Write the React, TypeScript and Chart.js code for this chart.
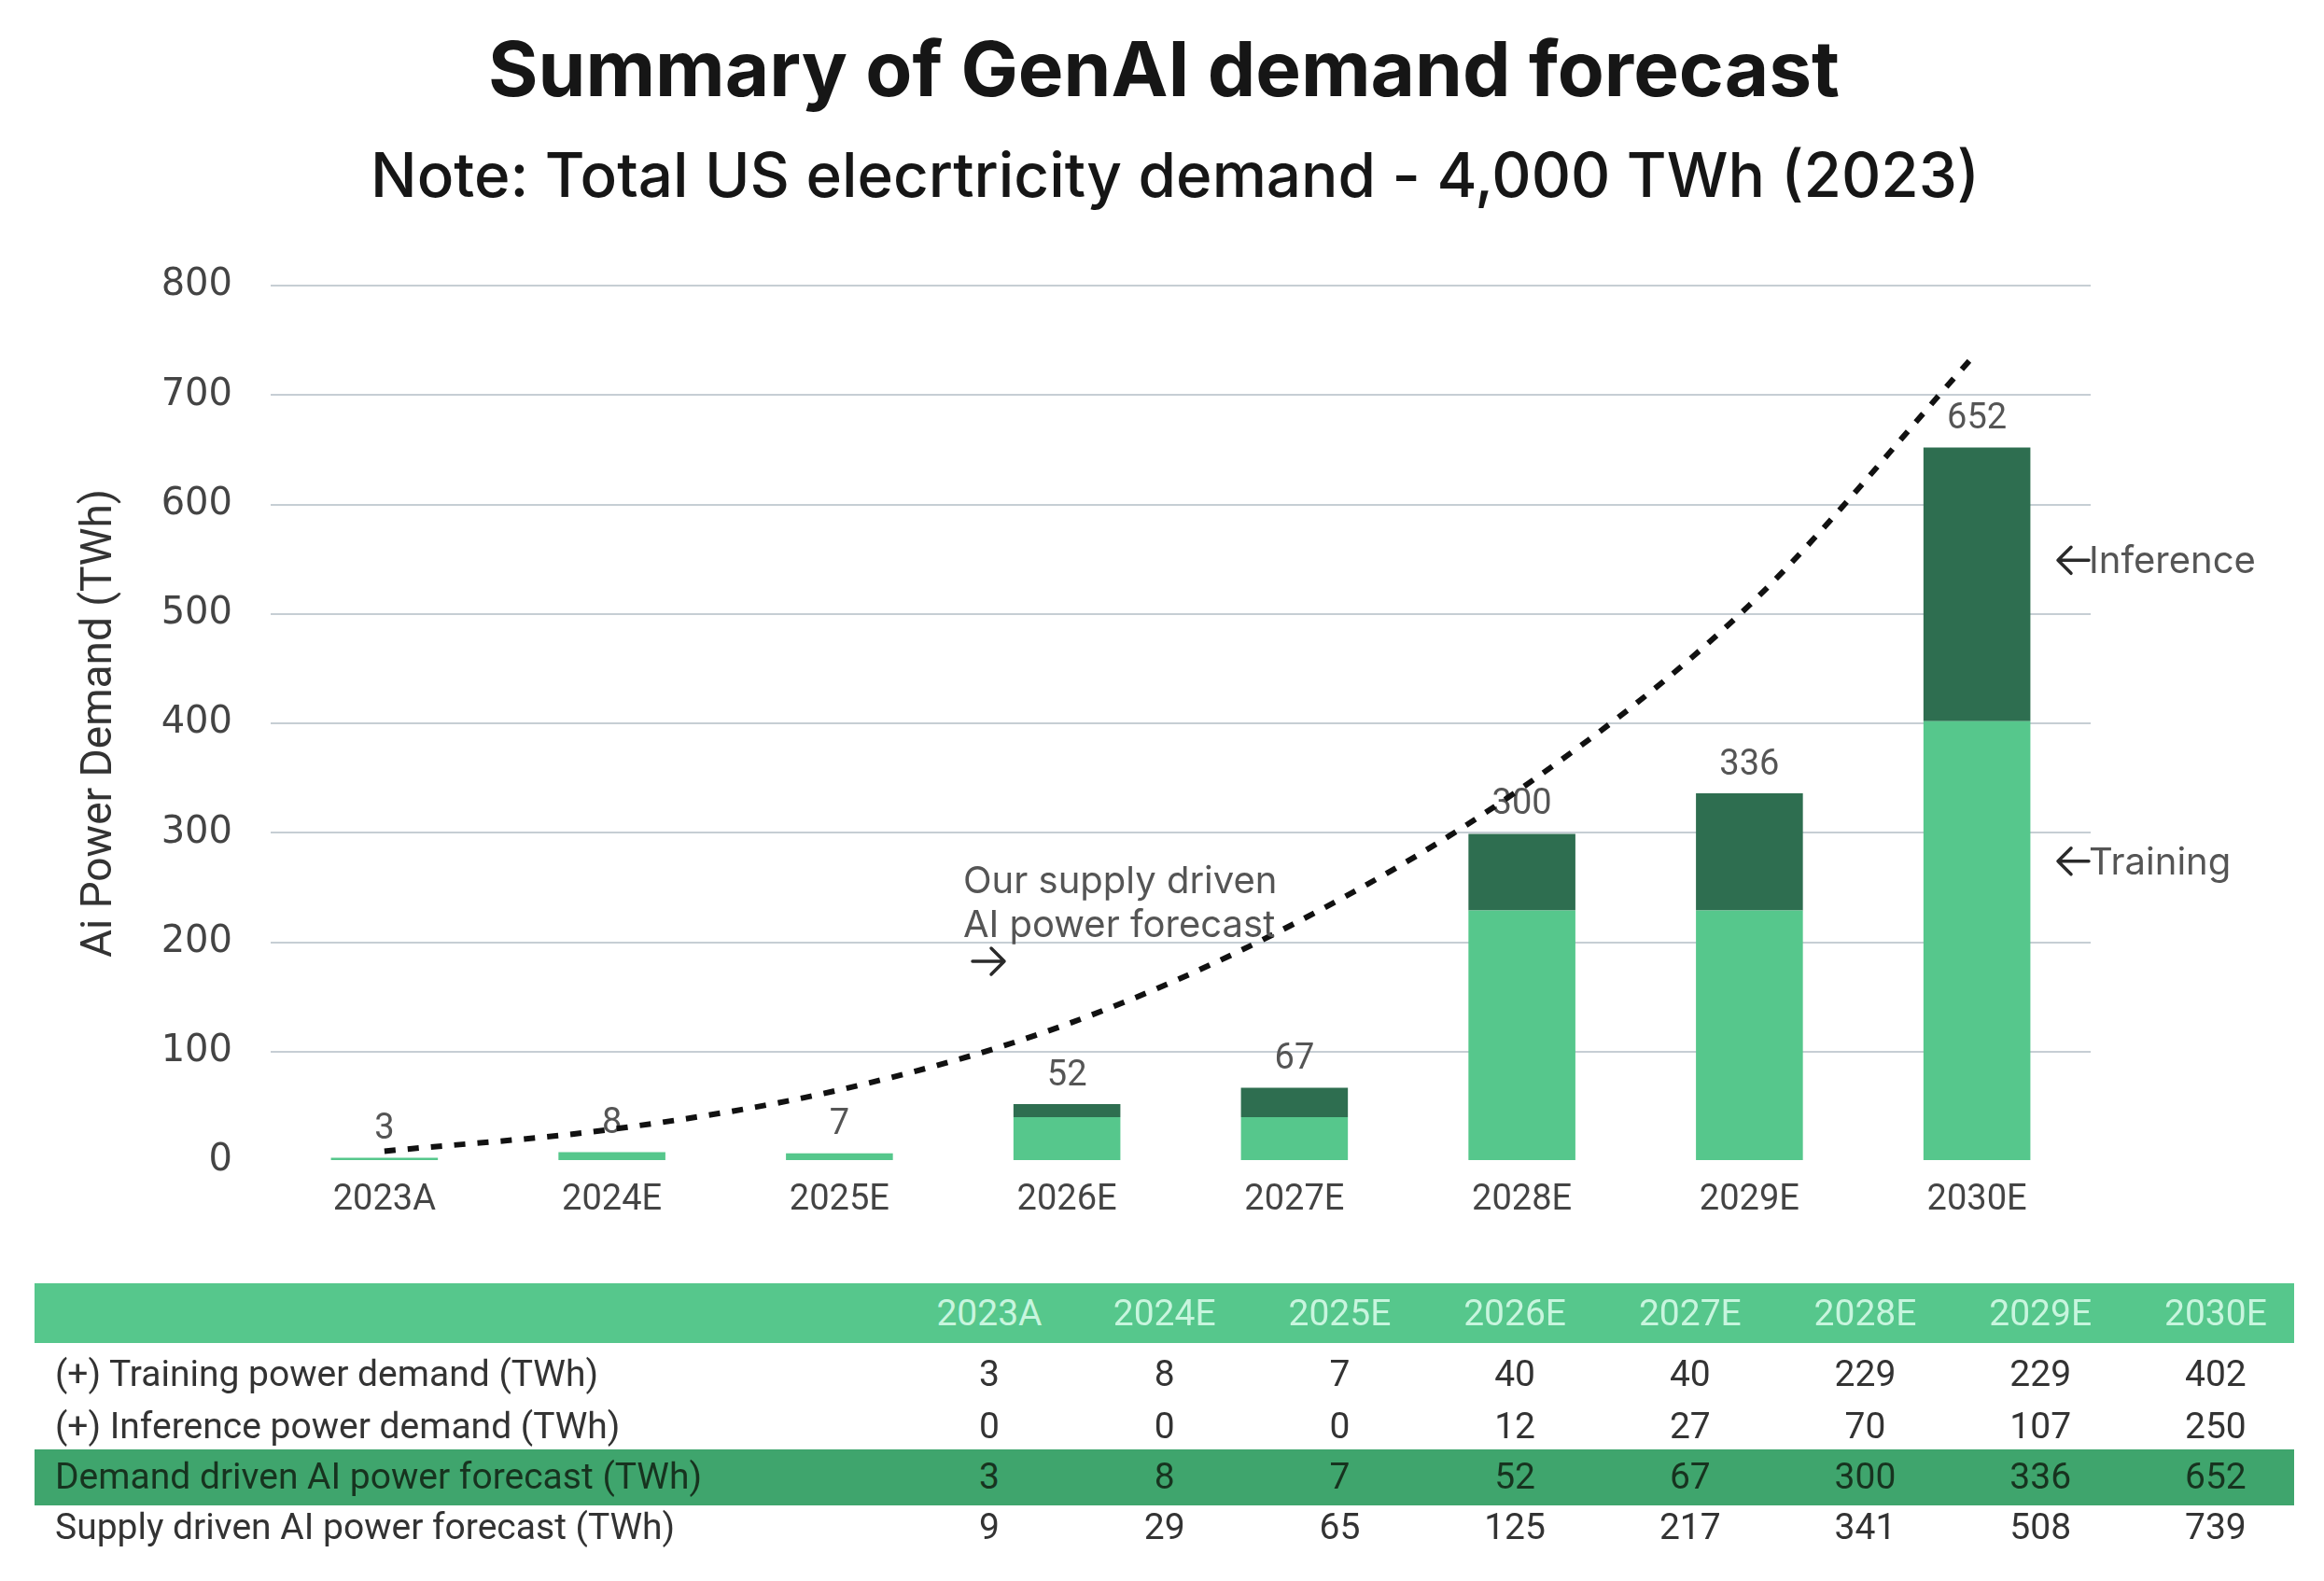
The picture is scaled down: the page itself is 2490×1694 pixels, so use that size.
import React, { useEffect, useRef } from 'react';
import { Chart, registerables } from 'chart.js';

Chart.register(...registerables);

// ---- data ----
const categories = ['2023A', '2024E', '2025E', '2026E', '2027E', '2028E', '2029E', '2030E'];
const trainingDemand = [3, 8, 7, 40, 40, 229, 229, 402];
const inferenceDemand = [0, 0, 0, 12, 27, 70, 107, 250];
const demandTotals = [3, 8, 7, 52, 67, 300, 336, 652];
const supplyForecast = [9, 29, 65, 125, 217, 341, 508, 739];
const yTickValues = [0, 100, 200, 300, 400, 500, 600, 700, 800];
const tableRowLabels = [
  '(+) Training power demand (TWh)',
  '(+) Inference power demand (TWh)',
  'Demand driven AI power forecast (TWh)',
  'Supply driven AI power forecast (TWh)',
];
const titleText = 'Summary of GenAI demand forecast';
const subtitleText = 'Note: Total US elecrtricity demand - 4,000 TWh (2023)';
const yAxisTitle = 'Ai Power Demand (TWh)';
const supplyNoteLines = ['Our supply driven', 'AI power forecast'];
const inferenceNote = 'Inference';
const trainingNote = 'Training';

// ---- styles ----
const LIGHT_GREEN = '#56C78C';
const DARK_GREEN = '#2E6E50';
const BAND_GREEN = '#3FA56D';
const W = 2490;
const H = 1694;

function fitFont(ctx: CanvasRenderingContext2D, text: string, weight: string, family: string, base: number, target: number) {
  ctx.font = `${weight} ${base}px ${family}`;
  const w = ctx.measureText(text).width;
  let size = base * (target / w);
  size = Math.max(base * 0.85, Math.min(base * 1.15, size));
  ctx.font = `${weight} ${size}px ${family}`;
}

function drawArrow(ctx: CanvasRenderingContext2D, x1: number, x2: number, y: number) {
  // arrow from x1 to x2 (head at x2)
  const dir = x2 > x1 ? 1 : -1;
  ctx.save();
  ctx.strokeStyle = '#2a2a2a';
  ctx.lineWidth = 3.5;
  ctx.lineCap = 'round';
  ctx.lineJoin = 'round';
  ctx.beginPath();
  ctx.moveTo(x1, y);
  ctx.lineTo(x2, y);
  ctx.moveTo(x2 - dir * 14, y - 14);
  ctx.lineTo(x2, y);
  ctx.lineTo(x2 - dir * 14, y + 14);
  ctx.stroke();
  ctx.restore();
}

const overlayPlugin = {
  id: 'overlay',
  beforeDatasetsDraw(chart: any) {
    const ctx = chart.ctx as CanvasRenderingContext2D;
    const xs = chart.scales.x;
    const ys = chart.scales.y;
    ctx.save();
    ctx.font = '400 38px Roboto';
    ctx.fillStyle = '#555';
    ctx.textAlign = 'center';
    ctx.textBaseline = 'middle';
    demandTotals.forEach((v, i) => {
      ctx.fillText(String(v), xs.getPixelForValue(i), ys.getPixelForValue(v) - 30);
    });
    ctx.restore();
  },
  afterDraw(chart: any) {
    const ctx = chart.ctx as CanvasRenderingContext2D;
    ctx.save();
    // titles
    ctx.fillStyle = '#161616';
    ctx.textAlign = 'center';
    ctx.textBaseline = 'alphabetic';
    fitFont(ctx, titleText, '700', 'Inter', 82, 1448);
    ctx.fillText(titleText, 1247, 103);
    fitFont(ctx, subtitleText, '500', 'Inter', 70, 1724);
    ctx.fillText(subtitleText, 1259, 211);

    // supply note
    ctx.textAlign = 'left';
    ctx.textBaseline = 'middle';
    ctx.fillStyle = '#555';
    ctx.font = '400 40px Inter';
    ctx.fillText(supplyNoteLines[0], 1032, 945);
    ctx.fillText(supplyNoteLines[1], 1032, 992);
    drawArrow(ctx, 1042, 1076, 1030);

    // right notes
    const ys = chart.scales.y;
    const drawNote = (txt: string, val: number) => {
      const yy = ys.getPixelForValue(val);
      drawArrow(ctx, 2238, 2205, yy);
      ctx.fillStyle = '#555';
      ctx.font = '400 40px Inter';
      ctx.fillText(txt, 2238, yy + 2);
    };
    drawNote(inferenceNote, 549);
    drawNote(trainingNote, 274);
    ctx.restore();
  },
};

export default function App() {
  const canvasRef = useRef<HTMLCanvasElement | null>(null);

  useEffect(() => {
    if (!canvasRef.current) return;
    const chart = new Chart(canvasRef.current, {
      type: 'bar',
      data: {
        labels: categories,
        datasets: [
          {
            type: 'line',
            label: 'Supply driven AI power forecast',
            data: supplyForecast,
            borderColor: '#111',
            borderWidth: 6,
            borderDash: [12, 13],
            pointRadius: 0,
            cubicInterpolationMode: 'monotone',
            fill: false,
            order: 0,
          } as any,
          {
            label: 'Training',
            data: trainingDemand,
            backgroundColor: LIGHT_GREEN,
            borderWidth: 0,
            stack: 's',
            order: 1,
            categoryPercentage: 1,
            barPercentage: 0.47,
          },
          {
            label: 'Inference',
            data: inferenceDemand,
            backgroundColor: DARK_GREEN,
            borderWidth: 0,
            stack: 's',
            order: 2,
            categoryPercentage: 1,
            barPercentage: 0.47,
          },
        ],
      },
      options: {
        responsive: false,
        animation: false,
        devicePixelRatio: 1,
        layout: { padding: { left: 0, right: 250, top: 306, bottom: 0 } },
        plugins: {
          legend: { display: false },
          tooltip: { enabled: false },
          title: { display: false },
        },
        scales: {
          x: {
            stacked: true,
            grid: { display: false, drawTicks: false },
            border: { display: false },
            ticks: { font: { family: 'Roboto', size: 38 }, color: '#444', padding: 20 },
            afterFit: (s: any) => { s.height = 450; },
          },
          y: {
            stacked: true,
            min: 0,
            max: 800,
            afterBuildTicks: (s: any) => { s.ticks = yTickValues.map((v) => ({ value: v })); },
            grid: {
              color: (c: any) => (c.tick && c.tick.value === 0 ? 'rgba(0,0,0,0)' : '#C6CED4'),
              lineWidth: 2,
              drawTicks: false,
            },
            border: { display: false },
            ticks: { font: { family: '"DejaVu Sans"', size: 40 }, color: '#444', padding: 41 },
            title: {
              display: true,
              text: yAxisTitle,
              font: { family: 'Roboto', size: 46 },
              color: '#333',
              padding: { top: 80, bottom: 0 },
            },
            afterFit: (s: any) => { s.width = 290; },
          },
        },
      },
      plugins: [overlayPlugin],
    });
    return () => chart.destroy();
  }, []);

  const colX = (i: number) => 1060 + i * 187.7;
  const rowY = [1472, 1528, 1582, 1636];
  const rowData = [trainingDemand, inferenceDemand, demandTotals, supplyForecast];

  const textStyle = (left: number, top: number, width: number, align: 'left' | 'center', color: string): React.CSSProperties => ({
    position: 'absolute',
    left,
    top: top - 25,
    width,
    height: 50,
    lineHeight: '50px',
    textAlign: align,
    color,
    fontFamily: 'Roboto',
    fontSize: 39,
    whiteSpace: 'nowrap',
  });

  return (
    <div style={{ position: 'absolute', left: 0, top: 0, width: W, height: H, background: '#fff', overflow: 'hidden' }}>
      <canvas ref={canvasRef} width={W} height={H} style={{ position: 'absolute', left: 0, top: 0, width: W, height: H }} />
      <div style={{ position: 'absolute', left: 37, top: 1375, width: 2421, height: 64, background: LIGHT_GREEN }} />
      <div style={{ position: 'absolute', left: 37, top: 1553, width: 2421, height: 60, background: BAND_GREEN }} />
      {categories.map((c, i) => (
        <div key={'h' + i} style={textStyle(colX(i) - 100, 1407, 200, 'center', '#C8F5DE')}>{c}</div>
      ))}
      {tableRowLabels.map((lbl, r) => (
        <div key={'l' + r} style={textStyle(59, rowY[r], 900, 'left', r === 2 ? '#17331F' : '#333')}>{lbl}</div>
      ))}
      {rowData.map((arr, r) =>
        arr.map((v, i) => (
          <div key={'v' + r + '-' + i} style={textStyle(colX(i) - 100, rowY[r], 200, 'center', r === 2 ? '#17331F' : '#333')}>{String(v)}</div>
        ))
      )}
    </div>
  );
}
